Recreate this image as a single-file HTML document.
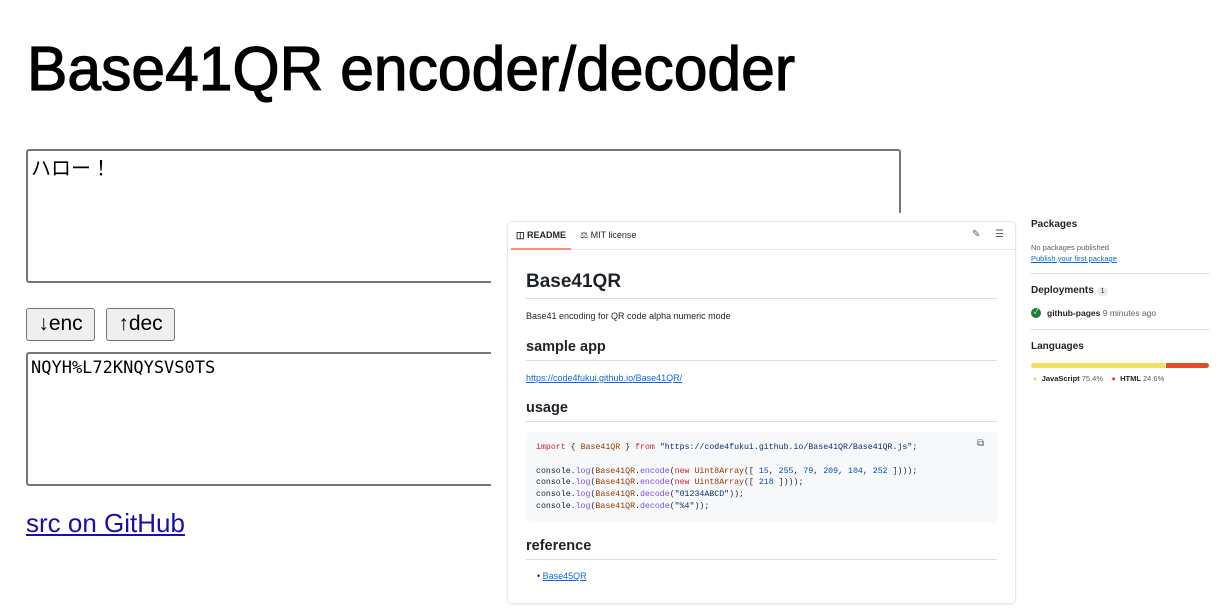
<!DOCTYPE html>
<html><head><meta charset="utf-8"><style>
*{margin:0;padding:0;box-sizing:border-box}
body{width:1220px;height:610px;background:#fff;position:relative;overflow:hidden;font-family:"Liberation Sans","Noto Sans CJK JP",sans-serif;color:#1f2328}
.a{position:absolute}
.ta{border:2px solid #767676;border-radius:3px;background:#fff}
.btn{border:1.5px solid #767676;border-radius:3px;background:#efefef;font-size:21px;text-align:center;line-height:30px;color:#000}
.h{font-weight:bold;color:#1f2328}
.hr{height:1px;background:#d8dee4}
.code{font-family:"Liberation Mono","DejaVu Sans Mono",monospace;font-size:8.25px;line-height:11.8px;color:#1f2328;white-space:pre}
.k{color:#cf222e}.f{color:#8250df}.s{color:#0a3069}.n{color:#0550ae}.v{color:#953800}
a{color:#0969da}
.sm{font-size:9px}
</style></head><body>
<svg class="a" style="left:0;top:30px" width="820" height="80"><text x="27" y="60" font-family="Liberation Sans" font-size="62" stroke="#000" stroke-width="1.2" textLength="768" lengthAdjust="spacingAndGlyphs" fill="#000">Base41QR encoder/decoder</text></svg>

<div class="a ta" style="left:26px;top:149px;width:875px;height:134px"></div>
<div class="a" style="left:31px;top:152px;font-size:20px;color:#000">ハロー！</div>
<div class="a btn" style="left:26px;top:308px;width:69px;height:33px">↓enc</div>
<div class="a btn" style="left:106px;top:308px;width:69px;height:33px">↑dec</div>
<div class="a ta" style="left:26px;top:352px;width:875px;height:134px"></div>
<div class="a" style="left:31px;top:358px;font-size:17px;font-family:'DejaVu Sans Mono',monospace;color:#000">NQYH%L72KNQYSVS0TS</div>
<div class="a" style="left:26px;top:508px;font-size:26px"><a style="color:#1a0dab;text-decoration:underline">src on GitHub</a></div>

<div class="a" style="left:491px;top:213px;width:729px;height:397px;background:#fff"></div>
<div class="a" style="left:507px;top:221px;width:509px;height:383px;border:1px solid #e4e7ea;border-radius:5px;box-shadow:0 1px 2px rgba(0,0,0,.06)"></div>
<div class="a" style="left:508px;top:249px;width:507px;height:1px;background:#e6e9ec"></div>
<div class="a" style="left:511px;top:248px;width:60px;height:2px;background:#fd8c73"></div>
<div class="a sm" style="left:516px;top:230px;font-weight:bold">&#9707; README</div>
<div class="a sm" style="left:580px;top:230px">⚖ MIT license</div>
<div class="a" style="left:972px;top:229px;font-size:10px;color:#57606a">✎</div>
<div class="a" style="left:995px;top:229px;font-size:10px;color:#57606a">☰</div>

<div class="a h" style="left:526px;top:271px;font-size:19px">Base41QR</div>
<div class="a hr" style="left:526px;top:298px;width:471px"></div>
<div class="a sm" style="left:526px;top:311px">Base41 encoding for QR code alpha numeric mode</div>
<div class="a h" style="left:526px;top:339px;font-size:14.5px">sample app</div>
<div class="a hr" style="left:526px;top:360px;width:471px"></div>
<div class="a sm" style="left:526px;top:373px"><a style="text-decoration:underline">https://code4fukui.github.io/Base41QR/</a></div>
<div class="a h" style="left:526px;top:400px;font-size:14.5px">usage</div>
<div class="a hr" style="left:526px;top:421px;width:471px"></div>
<div class="a" style="left:526px;top:432px;width:471px;height:90px;background:#f6f8fa;border-radius:4px"></div>
<div class="a" style="left:977px;top:438px;font-size:10px;color:#57606a">⧉</div>
<div class="a code" style="left:536px;top:442px"><span class="k">import</span> { <span class="v">Base41QR</span> } <span class="k">from</span> <span class="s">"https://code4fukui.github.io/Base41QR/Base41QR.js"</span>;

console.<span class="f">log</span>(<span class="v">Base41QR</span>.<span class="f">encode</span>(<span class="k">new</span> <span class="v">Uint8Array</span>([ <span class="n">15</span>, <span class="n">255</span>, <span class="n">79</span>, <span class="n">209</span>, <span class="n">104</span>, <span class="n">252</span> ])));
console.<span class="f">log</span>(<span class="v">Base41QR</span>.<span class="f">encode</span>(<span class="k">new</span> <span class="v">Uint8Array</span>([ <span class="n">218</span> ])));
console.<span class="f">log</span>(<span class="v">Base41QR</span>.<span class="f">decode</span>(<span class="s">"01234ABCD"</span>));
console.<span class="f">log</span>(<span class="v">Base41QR</span>.<span class="f">decode</span>(<span class="s">"%4"</span>));</div>
<div class="a h" style="left:526px;top:538px;font-size:14.5px">reference</div>
<div class="a hr" style="left:526px;top:559px;width:471px"></div>
<div class="a sm" style="left:537px;top:571px">• <a style="text-decoration:underline">Base45QR</a></div>

<div class="a" style="left:1031px;top:219px;font-size:10px;font-weight:bold">Packages</div>
<div class="a" style="left:1031px;top:243px;font-size:7.5px;color:#57606a">No packages published</div>
<div class="a" style="left:1031px;top:254px;font-size:7.5px"><a style="text-decoration:underline">Publish your first package</a></div>
<div class="a hr" style="left:1031px;top:273px;width:178px"></div>
<div class="a" style="left:1031px;top:285px;font-size:10px;font-weight:bold">Deployments <span style="display:inline-block;background:#e8ebef;border-radius:8px;font-size:7px;padding:1px 4px;font-weight:normal">1</span></div>
<div class="a" style="left:1031px;top:308px;width:10px;height:10px;border-radius:50%;background:#1a7f37;color:#fff;font-size:7px;line-height:10px;text-align:center">✓</div>
<div class="a" style="left:1047px;top:308px;font-size:8.5px"><b>github-pages</b> <span style="color:#57606a">9 minutes ago</span></div>
<div class="a hr" style="left:1031px;top:329px;width:178px"></div>
<div class="a" style="left:1031px;top:341px;font-size:10px;font-weight:bold">Languages</div>
<div class="a" style="left:1031px;top:363px;width:134px;height:5px;background:#f1e05a;border-radius:3px 0 0 3px"></div>
<div class="a" style="left:1166px;top:363px;width:43px;height:5px;background:#e34c26;border-radius:0 3px 3px 0"></div>
<div class="a" style="left:1033px;top:374px;font-size:7.5px"><span style="color:#f1e05a">●</span>&nbsp; <b>JavaScript</b> <span style="color:#57606a">75.4%</span> &nbsp;&nbsp;&nbsp;<span style="color:#e34c26">●</span>&nbsp; <b>HTML</b> <span style="color:#57606a">24.6%</span></div>
</body></html>
